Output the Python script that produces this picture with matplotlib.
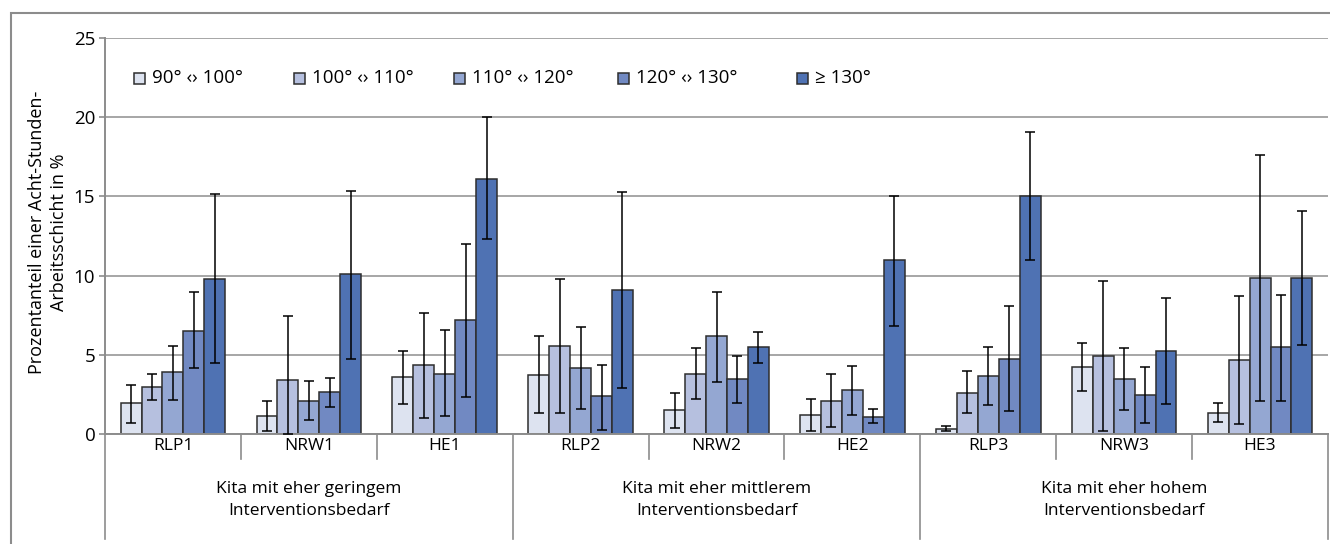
import numpy as np
import matplotlib.pyplot as plt
from matplotlib.patches import Rectangle
from matplotlib.transforms import blended_transform_factory

plt.rcParams['font.family'] = ['Open Sans', 'DejaVu Sans']

sites = ['RLP1', 'NRW1', 'HE1', 'RLP2', 'NRW2', 'HE2', 'RLP3', 'NRW3', 'HE3']
groups = ['Kita mit eher geringem\nInterventionsbedarf',
          'Kita mit eher mittlerem\nInterventionsbedarf',
          'Kita mit eher hohem\nInterventionsbedarf']
angles = ['90° ‹› 100°', '100° ‹› 110°', '110° ‹› 120°', '120° ‹› 130°', '≥ 130°']
colors = ['#dde3f0', '#b6c0df', '#94a7d2', '#7189c2', '#4f72b3']

# mean share per angle class (site order as above)
v90 = [1.93, 1.11, 3.58, 3.70, 1.54, 1.20, 0.34, 4.23, 1.35]
v100 = [2.97, 3.39, 4.33, 5.57, 3.81, 2.10, 2.61, 4.90, 4.65]
v110 = [3.89, 2.10, 3.81, 4.16, 6.16, 2.78, 3.64, 3.45, 9.86]
v120 = [6.52, 2.63, 7.19, 2.38, 3.45, 1.09, 4.73, 2.44, 5.47]
v130 = [9.78, 10.07, 16.11, 9.11, 5.47, 10.96, 15.02, 5.22, 9.86]

# error bar ends (lower / upper)
lo90 = [0.67, 0.17, 1.89, 1.35, 0.38, 0.17, 0.19, 2.73, 0.78]
hi90 = [3.11, 2.10, 5.22, 6.16, 2.61, 2.19, 0.50, 5.72, 1.93]
lo100 = [2.12, 0.0, 1.01, 1.35, 2.23, 0.46, 1.35, 0.17, 0.63]
hi100 = [3.81, 7.42, 7.61, 9.78, 5.40, 3.81, 3.95, 9.69, 8.69]
lo110 = [2.12, 0.86, 1.11, 1.60, 3.30, 1.20, 1.85, 1.51, 2.10]
hi110 = [5.57, 3.36, 6.58, 6.73, 8.94, 4.31, 5.47, 5.40, 17.64]
lo120 = [4.16, 1.72, 2.31, 0.27, 1.98, 0.69, 1.43, 0.69, 2.10]
hi120 = [8.96, 3.53, 11.97, 4.37, 4.90, 1.60, 8.10, 4.21, 8.77]
lo130 = [4.46, 4.73, 12.34, 2.90, 4.48, 6.83, 10.96, 1.89, 5.64]
hi130 = [15.18, 15.37, 20.0, 15.27, 6.41, 15.02, 19.05, 8.60, 14.09]

vals = [v90, v100, v110, v120, v130]
lows = [lo90, lo100, lo110, lo120, lo130]
highs = [hi90, hi100, hi110, hi120, hi130]

W, H = 1330, 544
fig = plt.figure(figsize=(W / 100, H / 100), dpi=100)
ax = fig.add_axes([105 / W, 1 - 434 / H, (1328 - 105) / W, 396 / H])

# outer frame of the chart
fig.add_artist(Rectangle((11 / W, -0.1), 1.2, 1.1 - 13 / H, transform=fig.transFigure,
                         fill=False, edgecolor='#8c8c8c', lw=1.5))

x = np.arange(len(sites))
w = 0.154
for j in range(5):
    v = np.array(vals[j])
    err = [v - np.array(lows[j]), np.array(highs[j]) - v]
    ax.bar(x + (j - 2) * w, v, w, color=colors[j], edgecolor='#2e2e2e', lw=1.1, zorder=2)
    ax.errorbar(x + (j - 2) * w, v, yerr=err, fmt='none', ecolor='black',
                elinewidth=1.1, capsize=3.5, capthick=1.1, zorder=3)

ax.set_xlim(-0.5, 8.5)
ax.set_ylim(0, 25)
ax.set_yticks(range(0, 26, 5))
ax.yaxis.grid(True, color='#a6a6a6', lw=1.4)
ax.set_axisbelow(True)
ax.set_xticks([])
ax.tick_params(axis='y', length=4, color='#8c8c8c', width=1.2, labelsize=13.5, pad=3)
for s in ['top', 'right']:
    ax.spines[s].set_visible(False)
for s in ['left', 'bottom']:
    ax.spines[s].set_color('#8c8c8c')
    ax.spines[s].set_linewidth(1.4)

# two-level category axis
tr = blended_transform_factory(ax.transData, ax.transAxes)
for b in np.arange(-0.5, 9, 1):
    low = -0.265 if b in (-0.5, 2.5, 5.5, 8.5) else -0.063
    ax.plot([b, b], [0, low], color='#8c8c8c', lw=1.2, transform=tr, clip_on=False)
for i, s in enumerate(sites):
    ax.text(i, -0.031, s, transform=tr, ha='center', va='center', fontsize=12.5)
for g, name in enumerate(groups):
    ax.text(3 * g + 1, -0.167, name, transform=tr, ha='center', va='center',
            fontsize=12.5, linespacing=1.5)

ax.set_ylabel('Prozentanteil einer Acht-Stunden-\nArbeitsschicht in %', fontsize=13,
              linespacing=1.3)
ax.yaxis.set_label_coords(-(105 - 68) / (1328 - 105), (434 - 232) / 396)

# legend
leg_x = [134, 294, 454, 618, 797]
for j in range(5):
    fig.add_artist(Rectangle((leg_x[j] / W, 1 - 84 / H), 11 / W, 11 / H, transform=fig.transFigure,
                             facecolor=colors[j], edgecolor='#2e2e2e', lw=1.1))
    fig.text((leg_x[j] + 18) / W, 1 - 78 / H, angles[j], ha='left', va='center', fontsize=13.5)

fig.savefig('out.png', dpi=100)
